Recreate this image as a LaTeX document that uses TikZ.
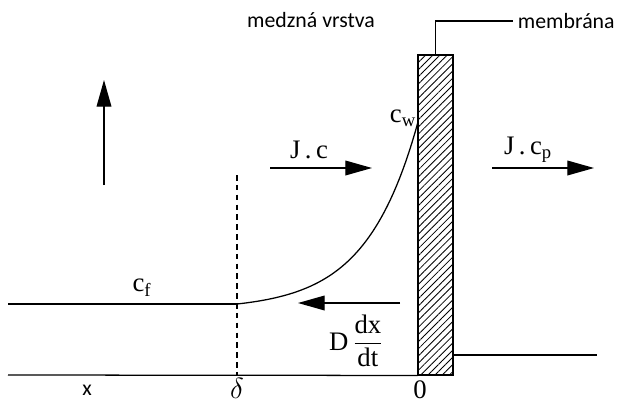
\documentclass[tikz,border=0pt]{standalone}
\usepackage{amsmath}
\usepackage{fontspec}
\setmainfont{Liberation Serif}
\newfontfamily\labelsans{Carlito}
\usetikzlibrary{arrows.meta,patterns.meta}

\begin{document}
\begin{tikzpicture}[
  x=0.025cm, y=-0.025cm,
  sans/.style={font=\labelsans\fontsize{15.5}{18}\selectfont},
  serif/.style={font=\fontsize{19}{22}\selectfont},
  flow/.style={-{Triangle[length=19pt,width=10.5pt]},line width=0.9pt},
  curve/.style={line width=0.9pt}
]
\useasboundingbox (0,0) rectangle (624,402);

% membrane and its label
\node[draw,line width=1.1pt,pattern={Lines[angle=45,distance=3.6pt,line width=0.6pt]},
      inner sep=0pt,minimum width=0.875cm,minimum height=8cm] (membrane) at (435.5,215) {};
\node[sans,anchor=west] (memlabel) at (513,21) {membrána};
\draw[curve] (membrane.north) |- (memlabel.west);
\node[sans,anchor=base] (layer) at (311,27) {medzná vrstva};

% axis and boundary layer edge
\coordinate (xstart) at (8,375);
\draw[curve] (xstart) -- (membrane.south west);
\coordinate (dtop) at (237,175);
\coordinate (dbot) at (237,375);
\draw[curve,dash pattern=on 4pt off 3pt] (dtop) -- (dbot);
\node[sans,anchor=base] (xlabel) at (87,395) {x};
\node[serif,font=\fontsize{22}{24}\selectfont,anchor=base] (delta) at (237,398) {$\delta$};
\node[serif,anchor=base] (zero) at (420,398) {0};

% concentration profile
\coordinate (feed) at (8,304);
\coordinate (edge) at (237,304);
\draw[curve] (feed) -- (edge);
\draw[curve] plot[domain=237:418,samples=60]
  (\x,{304-182*(exp(3.5*(\x-237)/181)-1)/(exp(3.5)-1)});
\coordinate (perm) at (597,355);
\draw[curve] (membrane.east |- perm) -- (perm);
\node[serif] (cf) at (142,288) {c$_\text{f}$};
\node[serif] (cw) at (403,118) {c$_\text{w}$};

% fluxes
\coordinate (upa) at (104,185);
\coordinate (upb) at (104,80);
\draw[flow] (upa) -- (upb);
\coordinate (jca) at (270,168);
\coordinate (jcb) at (372,168);
\draw[flow] (jca) -- (jcb);
\node[serif] (jc) at (309,150) {J\,.\,c};
\coordinate (jpa) at (492,168);
\coordinate (jpb) at (594,168);
\draw[flow] (jpa) -- (jpb);
\node[serif] (jcp) at (528,150) {J\,.\,c$_\text{p}$};
\coordinate (dfa) at (400,303);
\coordinate (dfb) at (298,303);
\draw[flow] (dfa) -- (dfb);
\node[serif] (diff) at (356,341) {D\,$\dfrac{\text{dx}}{\text{dt}}$};
\end{tikzpicture}
\end{document}
